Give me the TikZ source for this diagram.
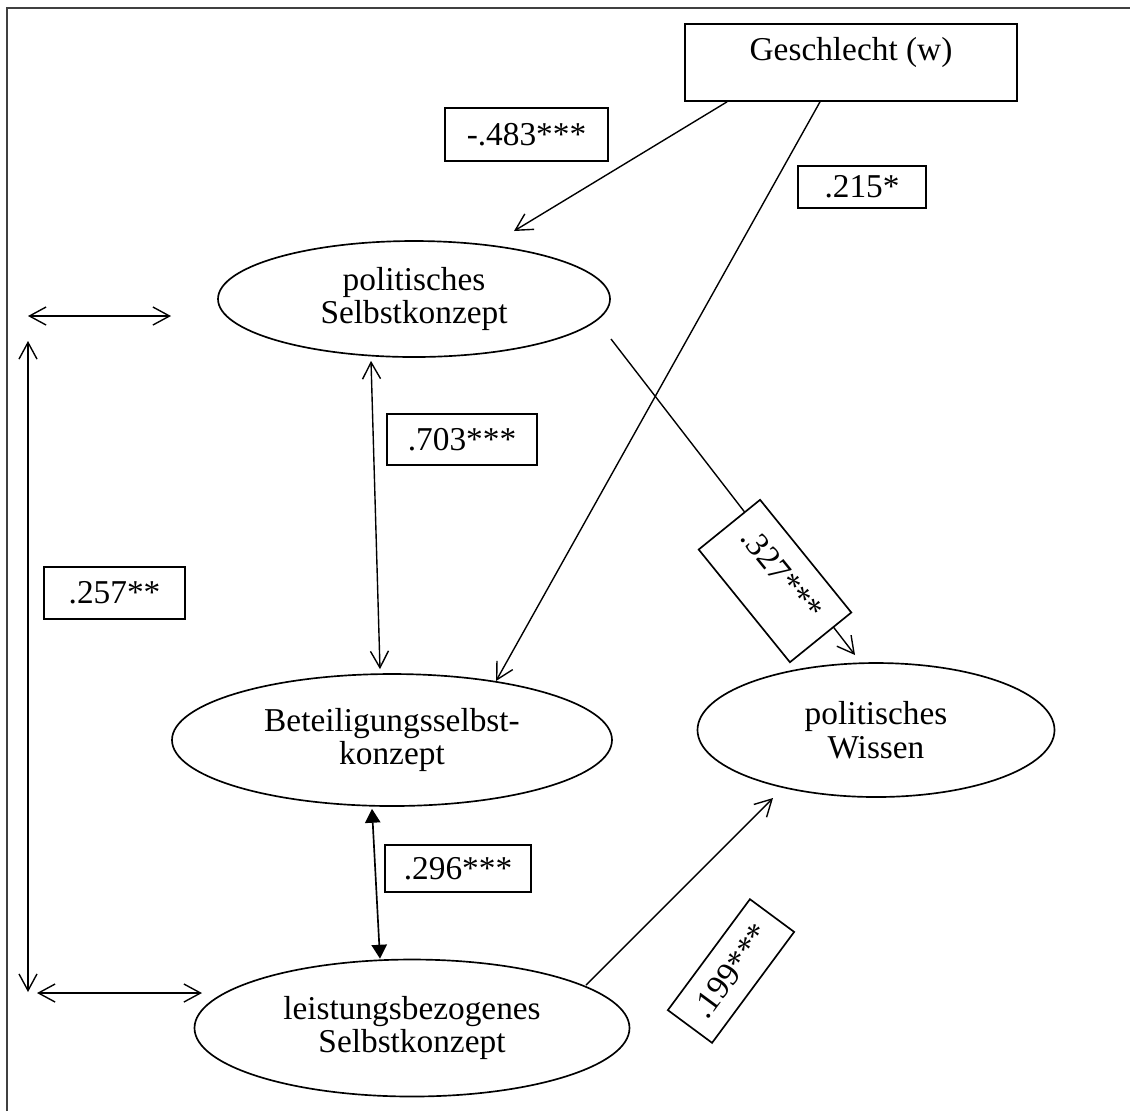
\documentclass[tikz,border=0pt]{standalone}
\usepackage{fontspec}
\setmainfont{Liberation Serif}
\usetikzlibrary{shapes.geometric,arrows.meta,calc}
\newcommand{\pxu}{0.36pt}
\begin{document}
\begin{tikzpicture}[x=0.36pt,y=-0.36pt,
  every node/.style={font=\fontsize{12}{12.2}\selectfont, inner sep=0pt},
  lbox/.style={draw, line width=0.6pt, fill=white},
  ell/.style={draw, line width=0.6pt, ellipse, align=center},
  arr/.style={line width=0.5pt, -{Straight Barb[length=6pt,width=6.5pt]}},
  darr/.style={line width=0.5pt, {Straight Barb[length=6pt,width=6.5pt]}-{Straight Barb[length=6pt,width=6.5pt]}},
  farr/.style={line width=0.6pt, {Triangle[length=5pt,width=5.5pt]}-{Triangle[length=5pt,width=5.5pt]}},
  frame/.style={line width=0.8pt, draw=black!75}]
\useasboundingbox (0,0) rectangle (1130,1111);
\draw[frame] (7,1111) -- (7,8) -- (1130,8);

% nodes
\node[lbox, minimum width={332*\pxu}, minimum height={77*\pxu}] (g) at (851,62.5) {};
\node (gt) at ($(g.center)+(0,-10)$) {Geschlecht (w)};

\node[ell, minimum width={392*\pxu}, minimum height={116*\pxu}] (ps) at (414,299) {politisches\\Selbstkonzept};
\node[ell, minimum width={440*\pxu}, minimum height={132*\pxu}] (bs) at (392,740) {Beteiligungsselbst-\\konzept};
\node[ell, minimum width={357*\pxu}, minimum height={134*\pxu}] (pw) at (876,730) {politisches\\Wissen};
\node[ell, minimum width={435*\pxu}, minimum height={137*\pxu}] (ls) at (412,1028) {leistungsbezogenes\\Selbstkonzept};

% connectors
\draw[arr] ($(g.south)+(-124,0)$) -- ($(ps.center)+(100,-68)$);
\draw[arr] ($(g.south)+(-31,0)$) -- ($(bs.center)+(104,-59)$);
\draw[arr] ($(ps.center)+(197,40)$) -- ($(pw.center)+(-21,-75)$);
\draw[darr] ($(ps.south)+(-43,3)$) -- ($(bs.north)+(-12,-4)$);
\draw[farr] ($(bs.south)+(-20,2)$) -- ($(ls.north)+(-32,0)$);
\draw[arr] ($(ls.center)+(174,-43)$) -- ($(pw.center)+(-103,68)$);

\coordinate (vt) at (28,341);
\coordinate (vb) at (28,992);
\coordinate (ht1) at (28,316);
\coordinate (ht2) at (171,316);
\coordinate (hb1) at (37,993);
\coordinate (hb2) at (202,993);
\draw[darr] (vt) -- (vb);
\draw[darr] (ht1) -- (ht2);
\draw[darr] (hb1) -- (hb2);

% labels
\node[lbox, minimum width={163*\pxu}, minimum height={53*\pxu}] (l483) at (526.5,134.5) {-.483***};
\node[lbox, minimum width={128*\pxu}, minimum height={42*\pxu}] (l215) at (862,187) {.215*};
\node[lbox, minimum width={150*\pxu}, minimum height={51*\pxu}] (l703) at (462,439.5) {.703***};
\node[lbox, minimum width={141*\pxu}, minimum height={52*\pxu}] (l257) at (114.5,593) {.257**};
\node[lbox, minimum width={146*\pxu}, minimum height={47*\pxu}] (l296) at (458,868.5) {.296***};

\node[lbox, rotate=-51, minimum width={145*\pxu}, minimum height={79*\pxu}] (l327) at (775,581) {};
\node[rotate=-51] (t327) at ($(l327.center)+(7,-7)$) {.327***};
\node[lbox, rotate=53.5, minimum width={138*\pxu}, minimum height={55*\pxu}] (l199) at (731,971) {.199***};
\end{tikzpicture}
\end{document}
